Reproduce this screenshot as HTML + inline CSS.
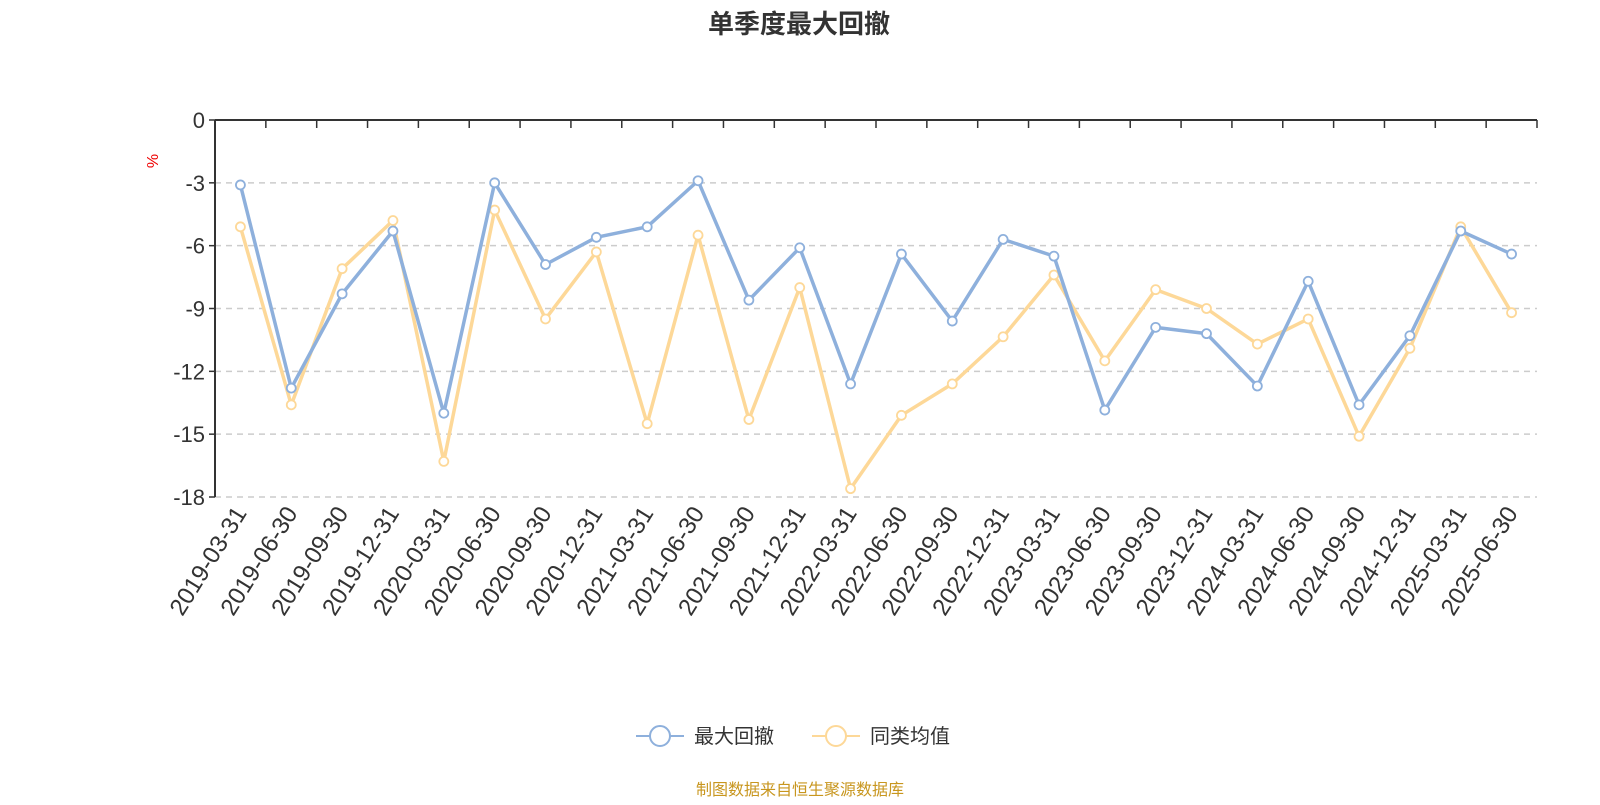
<!DOCTYPE html>
<html><head><meta charset="utf-8"><style>
body{margin:0;background:#fff;font-family:"Liberation Sans","Noto Sans CJK SC",sans-serif;}
</style></head><body>
<svg id="chart" width="1600" height="800" xmlns="http://www.w3.org/2000/svg" style="font-family:'Liberation Sans','Noto Sans CJK SC',sans-serif">
<text x="799" y="33" text-anchor="middle" font-size="26" font-weight="bold" fill="#333">单季度最大回撤</text>
<text x="0" y="0" transform="translate(158,161) rotate(-90)" text-anchor="middle" font-size="16" fill="#e00">%</text>
<g id="grid"></g><g id="axes"></g><g id="series"></g>
<g>
 <g>
  <line x1="636" y1="736" x2="684" y2="736" stroke="#8eb0dc" stroke-width="2"/>
  <circle cx="660" cy="736" r="10" fill="#fff" stroke="#8eb0dc" stroke-width="2"/>
  <text x="694" y="743" font-size="20" fill="#333">最大回撤</text>
 </g>
 <g>
  <line x1="812" y1="736" x2="860" y2="736" stroke="#fdd898" stroke-width="2"/>
  <circle cx="836" cy="736" r="10" fill="#fff" stroke="#fdd898" stroke-width="2"/>
  <text x="870" y="743" font-size="20" fill="#333">同类均值</text>
 </g>
</g>
<text x="800" y="795" text-anchor="middle" font-size="16" fill="#c8961e">制图数据来自恒生聚源数据库</text>
</svg>
<script>
const categories=["2019-03-31","2019-06-30","2019-09-30","2019-12-31","2020-03-31","2020-06-30","2020-09-30","2020-12-31","2021-03-31","2021-06-30","2021-09-30","2021-12-31","2022-03-31","2022-06-30","2022-09-30","2022-12-31","2023-03-31","2023-06-30","2023-09-30","2023-12-31","2024-03-31","2024-06-30","2024-09-30","2024-12-31","2025-03-31","2025-06-30"];
const maxDrawdown=[-3.1,-12.8,-8.3,-5.3,-14.0,-3.0,-6.9,-5.6,-5.1,-2.9,-8.6,-6.1,-12.6,-6.4,-9.6,-5.7,-6.5,-13.85,-9.9,-10.2,-12.7,-7.7,-13.6,-10.3,-5.3,-6.4];
const peerAverage=[-5.1,-13.6,-7.1,-4.8,-16.3,-4.3,-9.5,-6.3,-14.5,-5.5,-14.3,-8.0,-17.6,-14.1,-12.6,-10.35,-7.4,-11.5,-8.1,-9.0,-10.7,-9.5,-15.1,-10.9,-5.1,-9.2];
const yTicks=[0,-3,-6,-9,-12,-15,-18];
const NS="http://www.w3.org/2000/svg";
const L=215,R=1537,T=120,B=497,yMin=-18,yMax=0;
const band=(R-L)/categories.length;
const xs=i=>L+band*(i+0.5);
const ys=v=>T+(yMax-v)/(yMax-yMin)*(B-T);
function mk(tag,attrs,parent){const e=document.createElementNS(NS,tag);for(const k in attrs)e.setAttribute(k,attrs[k]);parent.appendChild(e);return e;}
const grid=document.getElementById('grid'),axes=document.getElementById('axes'),series=document.getElementById('series');
yTicks.forEach(v=>{
 const y=ys(v);
 if(v!==0){const g=mk('line',{x1:L,x2:R,y1:y,y2:y,stroke:'#ccc','stroke-width':1.5,'stroke-dasharray':'6,5'},grid);
 
 }
 mk('line',{x1:L-6,x2:L,y1:y,y2:y,stroke:'#333','stroke-width':1.5},axes);
 const t=mk('text',{x:L-10,y:y+8,'text-anchor':'end','font-size':22,fill:'#333'},axes);
 t.textContent=v;
 
 
});
const ya=mk('line',{x1:L,x2:L,y1:T,y2:B,stroke:'#333','stroke-width':2},axes);


const xa=mk('line',{x1:L,x2:R,y1:T,y2:T,stroke:'#333','stroke-width':2},axes);


for(let i=0;i<=categories.length;i++){const x=L+band*i;mk('line',{x1:x,x2:x,y1:T,y2:T+8,stroke:'#333','stroke-width':1.5},axes);}
categories.forEach((c,i)=>{
 const x=xs(i);
 const t=mk('text',{x:0,y:0,transform:`translate(${x+7},${B+16}) rotate(-58)`,'text-anchor':'end','font-size':24,fill:'#333'},axes);
 t.textContent=c;
 
 
});
function draw(data,color,name){
 const p=mk('polyline',{points:data.map((v,i)=>xs(i)+','+ys(v)).join(' '),fill:'none',stroke:color,'stroke-width':3.5,'stroke-linejoin':'round'},series);
 
 
 data.forEach((v,i)=>{
  const c=mk('circle',{cx:xs(i),cy:ys(v),r:4.5,fill:'#fff',stroke:color,'stroke-width':1.8},series);
  
  
 });
}
draw(peerAverage,'#fdd898','peer-average');
draw(maxDrawdown,'#8eb0dc','max-drawdown');
</script>
</body></html>
